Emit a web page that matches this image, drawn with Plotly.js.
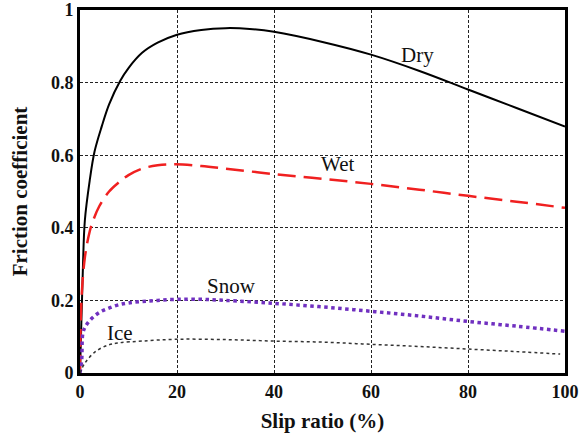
<!DOCTYPE html>
<html>
<head>
<meta charset="utf-8">
<script src="https://cdn.plot.ly/plotly-3.0.1.min.js"></script>
<style>html,body{margin:0;padding:0;background:#fff;}#chart{width:584px;height:436px;}</style>
</head>
<body>
<div id="chart"></div>
<script>
// Slip ratio (%) vs friction coefficient
const dryX = [0, 0.3, 0.6, 1, 2, 3, 4.5, 6, 8.3, 10, 12.8, 16, 20, 25, 30, 35, 40, 50, 60, 70, 80, 90, 100];
const dryY = [0, 0.15, 0.29, 0.42, 0.53, 0.61, 0.68, 0.74, 0.805, 0.84, 0.882, 0.91, 0.932, 0.945, 0.95, 0.948, 0.94, 0.912, 0.877, 0.832, 0.781, 0.73, 0.679];

const wetX = [0, 0.3, 1, 2, 2.7, 4, 6, 7.9, 10, 12.8, 16, 19.7, 25, 30, 40, 50, 60, 70, 80, 90, 100];
const wetY = [0, 0.2, 0.318, 0.39, 0.42, 0.46, 0.5, 0.524, 0.545, 0.563, 0.572, 0.575, 0.57, 0.563, 0.548, 0.535, 0.521, 0.505, 0.488, 0.472, 0.455];

const snowX = [0, 0.35, 0.6, 1.2, 2.4, 4, 5.8, 8, 10, 12.8, 16, 20, 25, 30, 40, 50, 60, 70, 80, 90, 100];
const snowY = [0, 0.036, 0.11, 0.13, 0.15, 0.167, 0.178, 0.188, 0.193, 0.197, 0.2, 0.203, 0.203, 0.2, 0.192, 0.182, 0.17, 0.157, 0.142, 0.129, 0.115];

const iceX = [0, 1, 3.1, 5.8, 8, 12.8, 20, 30, 40, 50, 60, 70, 80, 90, 99];
const iceY = [0, 0.027, 0.058, 0.077, 0.083, 0.088, 0.093, 0.092, 0.088, 0.085, 0.079, 0.073, 0.066, 0.059, 0.052];

const labels = ["Dry", "Wet", "Snow", "Ice"];
const labelX = [69.5, 53, 31.3, 8.2];
const labelY = [0.877, 0.575, 0.241, 0.11];

const xTicks = [0, 20, 40, 60, 80, 100];
const yTicks = [0, 0.2, 0.4, 0.6, 0.8, 1];
const yTickText = ["0", "0.2", "0.4", "0.6", "0.8", "1"];

const serif = "Liberation Serif, Times New Roman, serif";

const traces = [
  {x: dryX, y: dryY, mode: "lines", line: {color: "#000", width: 2, shape: "spline"}},
  {x: wetX, y: wetY, mode: "lines", line: {color: "#f02020", width: 2.5, dash: "18px,8px", shape: "spline"}},
  {x: snowX, y: snowY, mode: "lines", line: {color: "#7030c0", width: 3.5, dash: "dot", shape: "spline"}},
  {x: iceX, y: iceY, mode: "lines", line: {color: "#333", width: 1.5, dash: "dot", shape: "spline"}}
];

const layout = {
  width: 584, height: 436,
  margin: {l: 80, r: 19, t: 10, b: 63},
  paper_bgcolor: "#fff", plot_bgcolor: "#fff",
  showlegend: false,
  xaxis: {
    range: [0, 100], tickvals: xTicks, ticks: "", zeroline: false,
    showline: true, mirror: true, linewidth: 3, linecolor: "#000",
    showgrid: true, gridcolor: "#222", gridwidth: 1, griddash: "3px,2px",
    tickfont: {family: serif, size: 18, color: "#111", weight: "bold"},
    title: {text: "Slip ratio (%)", font: {family: serif, size: 21, color: "#111", weight: "bold"}, standoff: 13}
  },
  yaxis: {
    range: [0, 1], tickvals: yTicks, ticktext: yTickText, ticks: "", zeroline: false,
    showline: true, mirror: true, linewidth: 3, linecolor: "#000",
    showgrid: true, gridcolor: "#222", gridwidth: 1, griddash: "3px,2px",
    tickfont: {family: serif, size: 18, color: "#111", weight: "bold"},
    ticklabeloverflow: "allow",
    title: {text: "Friction coefficient", font: {family: serif, size: 21, color: "#111", weight: "bold"}, standoff: 18}
  },
  annotations: labels.map((t, i) => ({
    x: labelX[i], y: labelY[i], xref: "x", yref: "y", text: t, showarrow: false,
    font: {family: serif, size: 21, color: "#111"}
  }))
};

Plotly.newPlot("chart", traces, layout, {displayModeBar: false, staticPlot: true});
</script>
</body>
</html>
